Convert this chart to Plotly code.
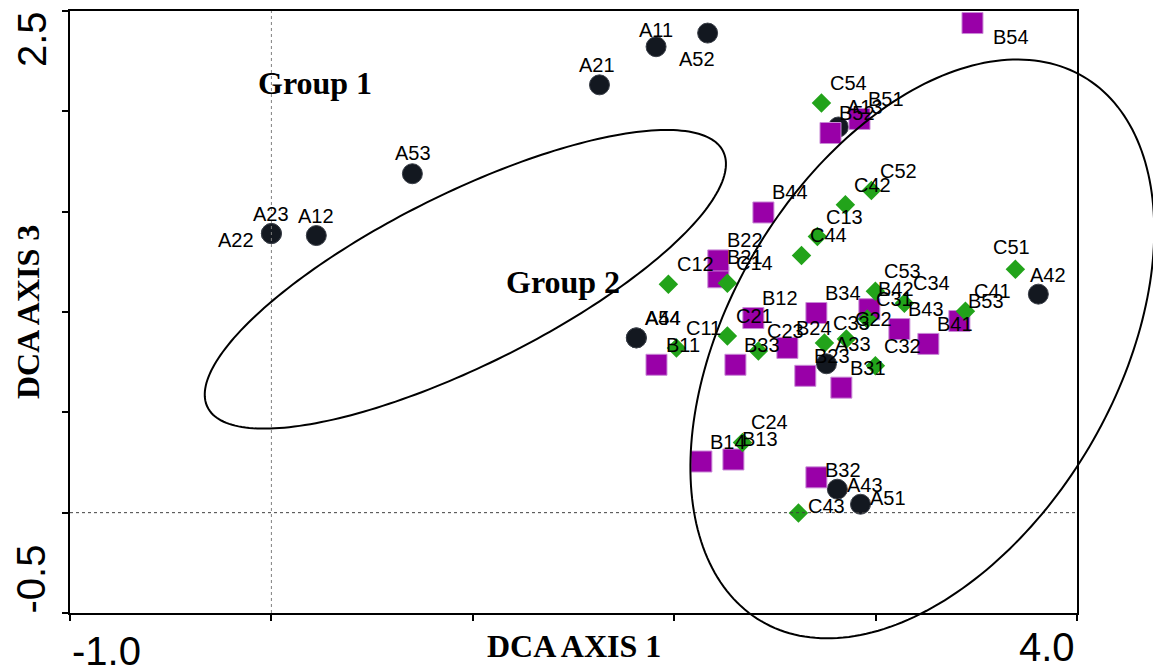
import numpy as np
import plotly.graph_objects as go

# ---------------- data (DCA sample scores) ----------------
a_names = ["A11", "A12", "A13", "A21", "A22", "A23", "A33", "A42", "A43", "A44", "A51", "A52", "A53", "A54"]
a_x = [1.910, 0.223, 2.815, 1.629, 0.000, 0.000, 2.756, 3.808, 2.810, 1.812, 2.925, 2.166, 0.700, 1.812]
a_y = [2.322, 1.381, 1.922, 2.132, 1.391, 1.391, 0.742, 1.089, 0.117, 0.871, 0.042, 2.390, 1.689, 0.871]

b_names = ["B11", "B12", "B13", "B14", "B21", "B22", "B23", "B24", "B31", "B32",
           "B33", "B34", "B41", "B42", "B43", "B44", "B51", "B52", "B53", "B54"]
b_x = [1.912, 2.393, 2.294, 2.135, 2.219, 2.219, 2.651, 2.562, 2.830, 2.706,
       2.304, 2.706, 3.262, 2.969, 3.118, 2.443, 2.920, 2.776, 3.416, 3.481]
b_y = [0.737, 0.970, 0.265, 0.255, 1.173, 1.257, 0.682, 0.821, 0.623, 0.176,
       0.737, 0.995, 0.841, 1.014, 0.915, 1.496, 1.962, 1.892, 0.955, 2.440]

c_names = ["C11", "C12", "C13", "C14", "C21", "C22", "C23", "C24", "C31", "C32",
           "C33", "C34", "C41", "C42", "C43", "C44", "C51", "C52", "C53", "C54"]
c_x = [2.011, 1.971, 2.711, 2.264, 2.264, 2.855, 2.418, 2.339, 2.959, 2.999,
       2.746, 3.143, 3.446, 2.850, 2.617, 2.632, 3.694, 2.979, 2.999, 2.731]
c_y = [0.821, 1.138, 1.376, 1.143, 0.880, 0.866, 0.806, 0.350, 0.965, 0.732,
       0.846, 1.044, 1.004, 1.535, -0.002, 1.282, 1.213, 1.605, 1.104, 2.041]

# group ellipses: centre x, centre y, semi-major, semi-minor, angle (deg)
ellipse_centres_x = [0.963, 3.232]
ellipse_centres_y = [1.163, 0.816]
ellipse_major = [1.430, 1.575]
ellipse_minor = [0.428, 0.962]
ellipse_angle = [26.5, 59.5]

group_labels = ["Group 1", "Group 2"]
group_label_x = [0.218, 1.450]
group_label_y = [2.140, 1.148]

x_range = [-1.0, 4.0]
y_range = [-0.5, 2.5]
x_tick_labels = ["-1.0", "4.0"]
y_tick_labels = ["2.5", "-0.5"]

# ---------------- styling ----------------
LABEL_FONT = dict(family="Liberation Sans, Arial, sans-serif", size=20, color="black")
TITLE_FONT = dict(family="Liberation Serif, Times New Roman, serif", size=32, color="black")
TICK_FONT = dict(family="Liberation Sans, Arial, sans-serif", size=40, color="black")

DEFAULT_OFFSET = (27, 20)  # label shift in px (right, up)
label_offsets = {
    "A11": (0, 17), "A12": (0, 20), "A21": (-2, 20), "A22": (-35, -6), "A23": (0, 20),
    "A42": (10, 19), "A43": (28, 4), "A51": (27, 6), "A52": (-11, -26), "A53": (1, 21),
    "B32": (27, 7), "B54": (39, -14),
    "C43": (28, 7), "C51": (-4, 22),
}

fig = go.Figure()

fig.add_trace(go.Scatter(
    x=a_x, y=a_y, mode="markers", name="A", cliponaxis=False,
    marker=dict(symbol="circle", size=20, color="#131820", line=dict(color="#3a3f48", width=1)),
))
fig.add_trace(go.Scatter(
    x=b_x, y=b_y, mode="markers", name="B", cliponaxis=False,
    marker=dict(symbol="square", size=21, color="#9900A8", line=dict(color="#C98AD6", width=1)),
))
fig.add_trace(go.Scatter(
    x=c_x, y=c_y, mode="markers", name="C", cliponaxis=False,
    marker=dict(symbol="diamond", size=15, color="#22A31A", line=dict(width=0)),
))

annotations = []
for names, xs, ys in ((a_names, a_x, a_y), (b_names, b_x, b_y), (c_names, c_x, c_y)):
    for n, x, y in zip(names, xs, ys):
        dx, dy = label_offsets.get(n, DEFAULT_OFFSET)
        annotations.append(dict(x=x, y=y, xref="x", yref="y", text=n, showarrow=False,
                                xshift=dx, yshift=dy, font=LABEL_FONT))

for t, x, y in zip(group_labels, group_label_x, group_label_y):
    annotations.append(dict(x=x, y=y, xref="x", yref="y", text="<b>%s</b>" % t, showarrow=False,
                            font=TITLE_FONT))

# axis titles
annotations.append(dict(x=0.5, y=0, xref="paper", yref="paper", text="<b>DCA AXIS 1</b>",
                        showarrow=False, yanchor="middle", yshift=-33, font=TITLE_FONT))
annotations.append(dict(x=0, y=0.5, xref="paper", yref="paper", text="<b>DCA AXIS 3</b>",
                        showarrow=False, xanchor="center", xshift=-42, textangle=-90, font=TITLE_FONT))
# end tick labels
annotations.append(dict(x=x_range[0], y=0, xref="x", yref="paper", text=x_tick_labels[0],
                        showarrow=False, xanchor="left", yanchor="middle", yshift=-38, font=TICK_FONT))
annotations.append(dict(x=x_range[1], y=0, xref="x", yref="paper", text=x_tick_labels[1],
                        showarrow=False, xanchor="right", yanchor="middle", yshift=-34, font=TICK_FONT))
annotations.append(dict(x=0, y=y_range[1], xref="paper", yref="y", text=y_tick_labels[0],
                        showarrow=False, xanchor="center", yanchor="top", xshift=-38, yshift=2,
                        textangle=-90, font=TICK_FONT))
annotations.append(dict(x=0, y=y_range[0], xref="paper", yref="y", text=y_tick_labels[1],
                        showarrow=False, xanchor="center", yanchor="bottom", xshift=-40, yshift=-3,
                        textangle=-90, font=TICK_FONT))

shapes = []
# dotted zero lines
shapes.append(dict(type="line", xref="x", yref="paper", x0=0, x1=0, y0=0, y1=1,
                   line=dict(color="#808080", width=1, dash="dot")))
shapes.append(dict(type="line", xref="paper", yref="y", x0=0, x1=1, y0=0, y1=0,
                   line=dict(color="#404040", width=1, dash="dot")))

# ellipses drawn in paper space so they are not clipped by the plot area
t = np.linspace(0, 2 * np.pi, 241)
for cx, cy, ea, eb, ang in zip(ellipse_centres_x, ellipse_centres_y, ellipse_major, ellipse_minor, ellipse_angle):
    th = np.radians(ang)
    ex = cx + ea * np.cos(t) * np.cos(th) - eb * np.sin(t) * np.sin(th)
    ey = cy + ea * np.cos(t) * np.sin(th) + eb * np.sin(t) * np.cos(th)
    px = (ex - x_range[0]) / (x_range[1] - x_range[0])
    py = (ey - y_range[0]) / (y_range[1] - y_range[0])
    path = "M " + " L ".join("%.5f,%.5f" % (u, v) for u, v in zip(px, py)) + " Z"
    shapes.append(dict(type="path", xref="paper", yref="paper", path=path,
                       line=dict(color="black", width=2), fillcolor="rgba(0,0,0,0)", layer="above"))

axis_common = dict(showline=True, linecolor="black", linewidth=2, mirror=True, showgrid=False,
                   zeroline=False, ticks="outside", ticklen=6, tickwidth=2, tickcolor="black",
                   showticklabels=False)

# the page body adds an 8 px margin, so the figure is 8 px smaller and margins compensate
fig.update_layout(
    width=1153, height=659,
    margin=dict(l=62, r=84, t=1, b=54),
    paper_bgcolor="white", plot_bgcolor="white",
    showlegend=False,
    xaxis=dict(range=x_range, tickvals=[-1, 0, 1, 2, 3, 4], **axis_common),
    yaxis=dict(range=y_range, tickvals=[-0.5, 0, 0.5, 1.0, 1.5, 2.0, 2.5], **axis_common),
    annotations=annotations,
    shapes=shapes,
)

fig.write_html("out.html")
